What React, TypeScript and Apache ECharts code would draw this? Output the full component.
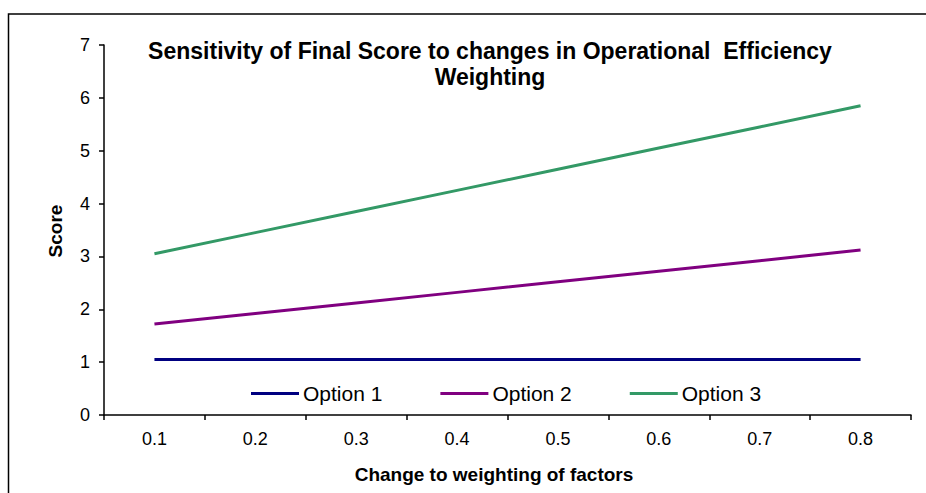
import React, { useEffect, useRef } from "react";
import * as echarts from "echarts";

const categories = ["0.1", "0.2", "0.3", "0.4", "0.5", "0.6", "0.7", "0.8"];
const option1 = [1.05, 1.05, 1.05, 1.05, 1.05, 1.05, 1.05, 1.05];
const option2 = [1.72, 1.92, 2.12, 2.32, 2.52, 2.72, 2.92, 3.12];
const option3 = [3.05, 3.45, 3.85, 4.25, 4.65, 5.05, 5.45, 5.85];
const seriesNames = ["Option 1", "Option 2", "Option 3"];
const colors = ["#000080", "#800080", "#339966"];
const titleLines = ["Sensitivity of Final Score to changes in Operational  Efficiency", "Weighting"];
const xName = "Change to weighting of factors";
const yName = "Score";

const FONT = "Liberation Sans, Arial, sans-serif";

export default function App() {
  const ref = useRef<HTMLDivElement>(null);
  useEffect(() => {
    const chart = echarts.init(ref.current!, null, { renderer: "svg" });
    const data = [option1, option2, option3];
    chart.setOption({
      animation: false,
      backgroundColor: "#ffffff",
      grid: { left: 104, top: 45, right: 15, bottom: 78, containLabel: false },
      legend: {
        data: seriesNames,
        left: 251,
        top: 383,
        padding: 0,
        icon: "rect",
        itemWidth: 48,
        itemHeight: 3,
        itemGap: 58,
        textStyle: { fontFamily: FONT, fontSize: 21, color: "#000", padding: [0, 0, 0, -1] },
      },
      xAxis: {
        type: "category",
        data: categories,
        boundaryGap: true,
        axisLine: { lineStyle: { color: "#000", width: 1.5 } },
        axisTick: { show: true, length: 5, inside: false, lineStyle: { color: "#000", width: 1.5 } },
        axisLabel: { fontFamily: FONT, fontSize: 18, color: "#000", margin: 15 },
        splitLine: { show: false },
      },
      yAxis: {
        type: "value",
        min: 0,
        max: 7,
        interval: 1,
        axisLine: { show: true, lineStyle: { color: "#000", width: 1.5 } },
        axisTick: { show: true, length: 5, lineStyle: { color: "#000", width: 1.5 } },
        axisLabel: { fontFamily: FONT, fontSize: 18, color: "#000", margin: 14 },
        splitLine: { show: false },
      },
      series: seriesNames.map((n, i) => ({
        name: n,
        type: "line",
        data: data[i],
        symbol: "none",
        itemStyle: { color: colors[i] },
        lineStyle: { color: colors[i], width: 3 },
      })),
      graphic: [
        {
          type: "rect",
          shape: { x: 8.5, y: 14, width: 1000, height: 1000 },
          style: { fill: "none", stroke: "#000", lineWidth: 1.5 },
          silent: true,
        },
        {
          type: "text",
          x: 490,
          y: 51,
          style: {
            text: titleLines[0],
            font: `bold 23px ${FONT}`,
            fill: "#000",
            textAlign: "center",
            textVerticalAlign: "middle",
          },
        },
        {
          type: "text",
          x: 490,
          y: 77,
          style: {
            text: titleLines[1],
            font: `bold 23px ${FONT}`,
            fill: "#000",
            textAlign: "center",
            textVerticalAlign: "middle",
          },
        },
        {
          type: "text",
          x: 494,
          y: 474,
          style: {
            text: xName,
            font: `bold 19px ${FONT}`,
            fill: "#000",
            textAlign: "center",
            textVerticalAlign: "middle",
          },
        },
        {
          type: "text",
          x: 55,
          y: 231,
          rotation: Math.PI / 2,
          style: {
            text: yName,
            font: `bold 19px ${FONT}`,
            fill: "#000",
            textAlign: "center",
            textVerticalAlign: "middle",
          },
        },
      ],
    });
    return () => chart.dispose();
  }, []);
  return (
    <div
      ref={ref}
      style={{ position: "absolute", left: 0, top: 0, width: 926, height: 493 }}
    />
  );
}
